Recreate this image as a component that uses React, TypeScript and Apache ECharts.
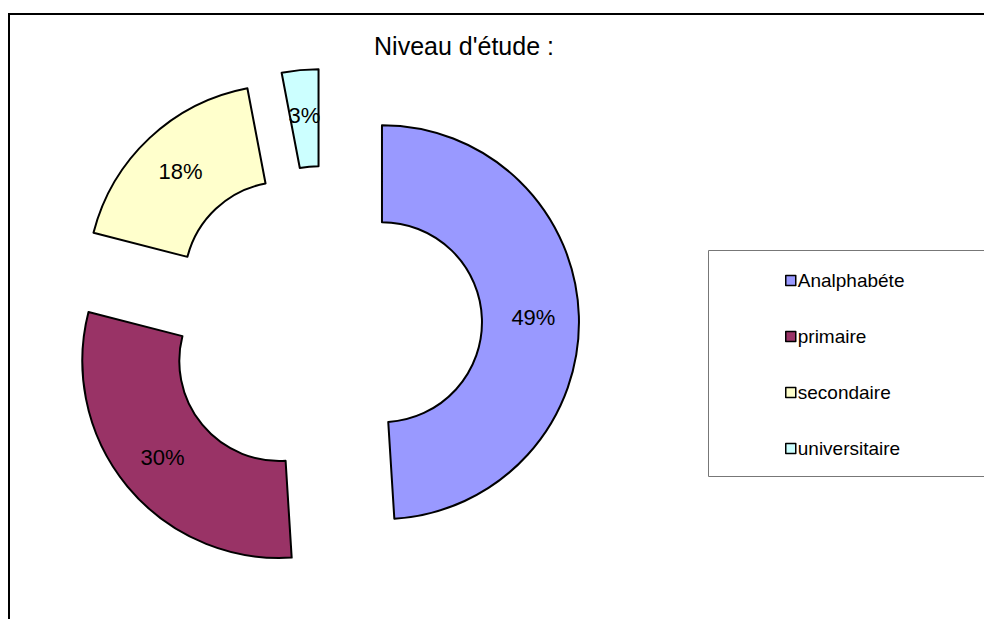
import React, { useEffect, useRef } from "react";
import * as echarts from "echarts";

const categories = ["Analphabéte", "primaire", "secondaire", "universitaire"];
const values = [49, 30, 18, 3];
const colors = ["#9999FF", "#993366", "#FFFFCC", "#CCFFFF"];
const titleText = "Niveau d'étude :";

export default function App() {
  const ref = useRef<HTMLDivElement>(null);
  useEffect(() => {
    if (!ref.current) return;
    const chart = echarts.init(ref.current, null, { renderer: "svg" });
    const font = "'Liberation Sans', Arial, sans-serif";
    chart.setOption({
      animation: false,
      backgroundColor: "#ffffff",
      graphic: [
        {
          type: "rect",
          z: 0,
          shape: { x: 9, y: 14, width: 1100, height: 800 },
          style: { fill: "#ffffff", stroke: "#000000", lineWidth: 2 },
        },
        {
          type: "rect",
          z: 1,
          shape: { x: 708.5, y: 250.5, width: 400, height: 226 },
          style: { fill: "#ffffff", stroke: "#777777", lineWidth: 1 },
        },
        {
          type: "text",
          z: 2,
          x: 464,
          y: 46,
          style: {
            text: titleText,
            fontFamily: font,
            fontSize: 25,
            fill: "#000000",
            align: "center",
            verticalAlign: "middle",
          },
        },
      ],
      legend: {
        orient: "vertical",
        left: 785,
        top: 271,
        padding: 0,
        itemWidth: 10,
        itemHeight: 10,
        itemGap: 37,
        icon: "rect",
        selectedMode: false,
        data: categories,
        textStyle: { fontFamily: font, fontSize: 19, color: "#000000", padding: [0, 0, 0, -3] },
        itemStyle: { borderColor: "#000000", borderWidth: 1.5 },
      },
      series: [
        {
          type: "pie",
          center: [324, 324],
          radius: [100, 197],
          startAngle: 90,
          clockwise: true,
          selectedMode: "multiple",
          selectedOffset: 58,
          avoidLabelOverlap: false,
          emphasis: { disabled: true },
          itemStyle: { borderColor: "#000000", borderWidth: 2 },
          label: {
            show: true,
            position: "inside",
            formatter: "{d}%",
            fontFamily: font,
            fontSize: 22,
            color: "#000000",
          },
          labelLine: { show: false },
          data: categories.map((name, i) => ({
            name,
            value: values[i],
            selected: true,
            itemStyle: { color: colors[i] },
          })),
        },
      ],
    });
    return () => chart.dispose();
  }, []);
  return (
    <div
      ref={ref}
      style={{ position: "fixed", left: 0, top: 0, width: 984, height: 619 }}
    />
  );
}
